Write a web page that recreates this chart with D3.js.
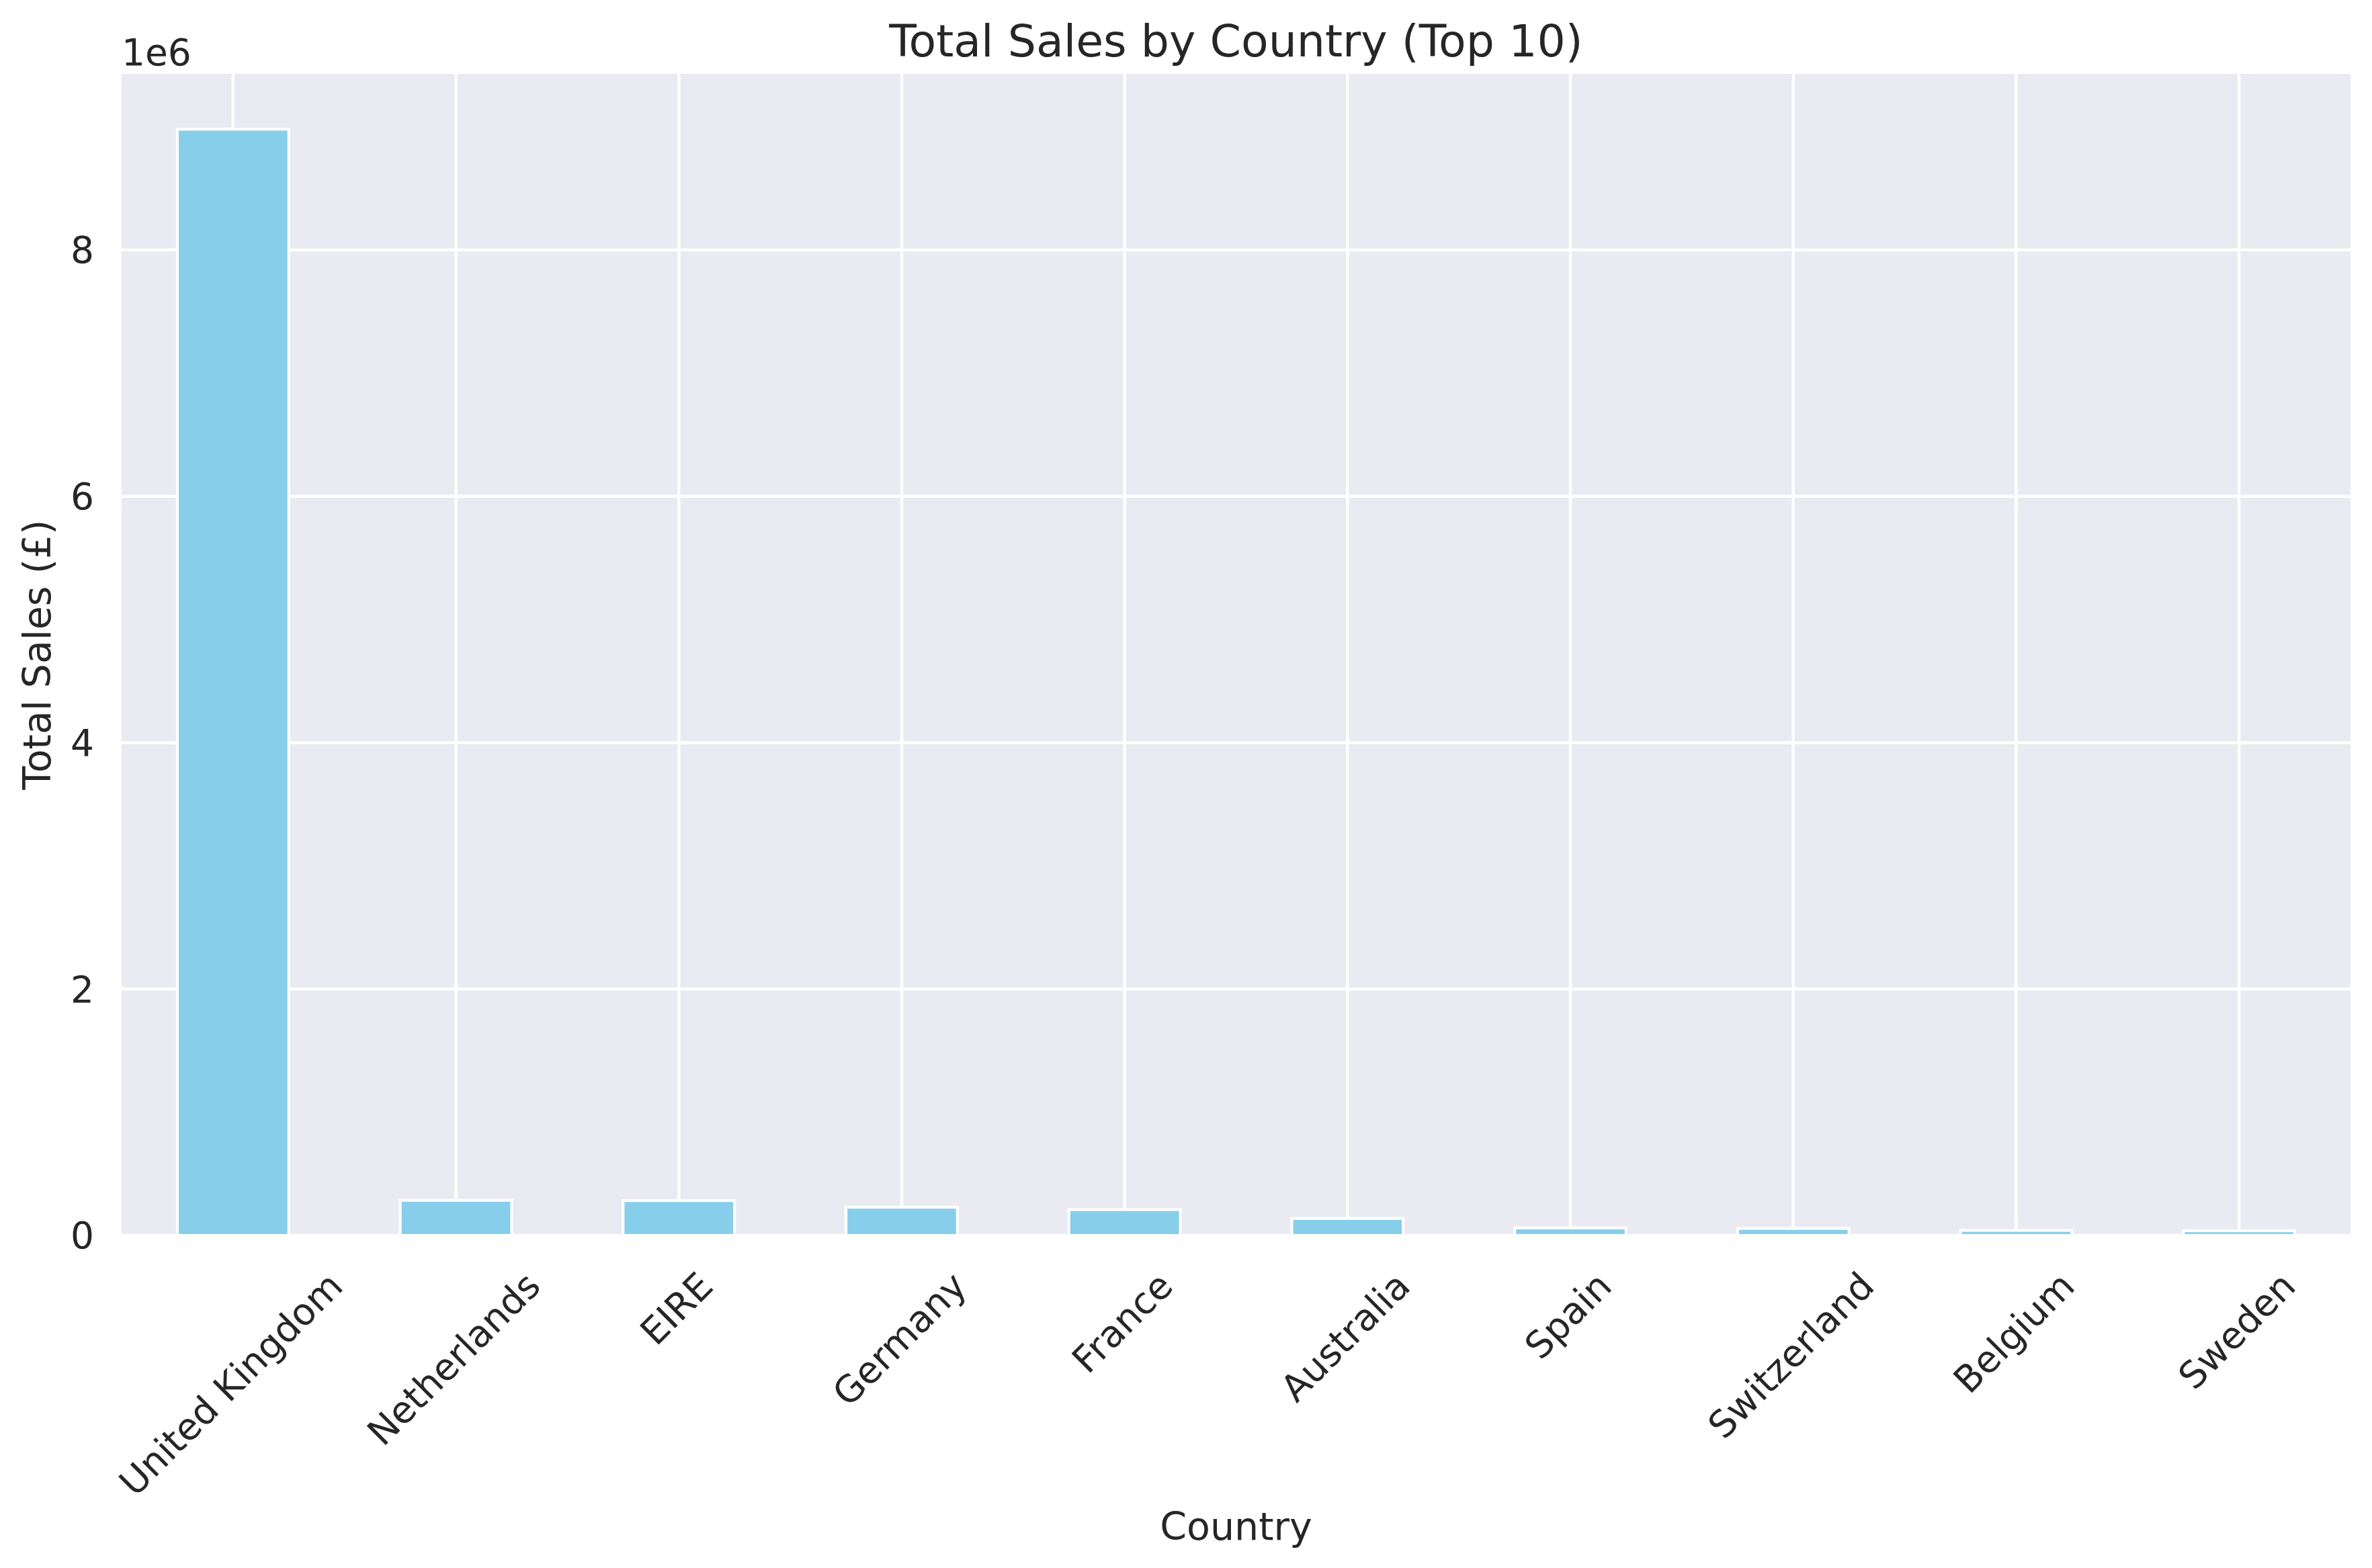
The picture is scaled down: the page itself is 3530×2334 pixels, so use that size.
<!DOCTYPE html>
<html>
<head>
<meta charset="utf-8">
<script src="https://cdn.jsdelivr.net/npm/d3@7"></script>
<style>
  body { margin: 0; background: #ffffff; }
  svg { display: block; }
  text { font-family: "DejaVu Sans", sans-serif; fill: #262626; }
</style>
</head>
<body>
<div class="graph"></div>
<script>
// values
const countries = ["United Kingdom", "Netherlands", "EIRE", "Germany", "France",
                   "Australia", "Spain", "Switzerland", "Belgium", "Sweden"]
const sales = [8980000, 285000, 283000, 229000, 210000, 138000, 61000, 57000, 41000, 38000]
const yTicks = [0, 2e6, 4e6, 6e6, 8e6]
const yTickLabels = ["0", "2", "4", "6", "8"]

const W = 3530, H = 2334
const plotLeft = 181, plotRight = 3498, plotTop = 110, plotBottom = 1839
const tickFont = 55, labelFont = 57, titleFont = 66.5

const svg = d3.select(".graph").append("svg").attr("width", W).attr("height", H)

const data = countries.map((c, i) => ({ country: c, value: sales[i] }))

const x = d3.scaleBand().domain(countries).range([plotLeft, plotRight]).paddingInner(0.5).paddingOuter(0.25)
const y = d3.scaleLinear().domain([0, d3.max(sales) * 1.05]).range([plotBottom, plotTop])

// plot background
svg.append("rect")
   .attr("x", plotLeft).attr("y", plotTop)
   .attr("width", plotRight - plotLeft).attr("height", plotBottom - plotTop)
   .attr("fill", "#eaeaf2")

// grid
const grid = svg.append("g").attr("stroke", "#ffffff").attr("stroke-width", 4.5)
grid.selectAll("line.h").data(yTicks).join("line")
    .attr("class", "h")
    .attr("x1", plotLeft).attr("x2", plotRight)
    .attr("y1", d => y(d)).attr("y2", d => y(d))
grid.selectAll("line.v").data(countries).join("line")
    .attr("class", "v")
    .attr("x1", d => x(d) + x.bandwidth() / 2).attr("x2", d => x(d) + x.bandwidth() / 2)
    .attr("y1", plotTop).attr("y2", plotBottom)

// bars
svg.append("g").selectAll("rect").data(data).join("rect")
   .attr("x", d => x(d.country))
   .attr("y", d => y(d.value))
   .attr("width", x.bandwidth())
   .attr("height", d => y(0) - y(d.value))
   .attr("fill", "#87ceeb")
   .attr("stroke", "#ffffff")
   .attr("stroke-width", 4.2)

// y tick labels
svg.append("g").selectAll("text").data(yTicks).join("text")
   .attr("x", 140)
   .attr("y", d => y(d))
   .attr("dy", "0.35em")
   .attr("text-anchor", "end")
   .attr("font-size", tickFont)
   .text((d, i) => yTickLabels[i])

// offset text
svg.append("text")
   .attr("x", plotLeft).attr("y", 97)
   .attr("font-size", tickFont)
   .text("1e6")

// x tick labels, rotated 45 like matplotlib (bbox centred on the tick)
const A = 0.76 * tickFont, D = 0.24 * tickFont, k = Math.SQRT1_2
svg.append("g").selectAll("text").data(countries).join("text")
   .attr("text-anchor", "end")
   .attr("font-size", tickFont)
   .text(d => d)
   .each(function(d) {
       const L = this.getComputedTextLength()
       const ex = x(d) + x.bandwidth() / 2 + k * (L + A - D) / 2
       const ey = plotBottom + 49 + k * A
       d3.select(this).attr("transform", "translate(" + ex + "," + ey + ") rotate(-45)")
   })

// axis labels and title
svg.append("text")
   .attr("x", (plotLeft + plotRight) / 2).attr("y", 2292)
   .attr("text-anchor", "middle")
   .attr("font-size", labelFont)
   .text("Country")

svg.append("text")
   .attr("transform", "translate(75," + (plotTop + plotBottom) / 2 + ") rotate(-90)")
   .attr("text-anchor", "middle")
   .attr("font-size", labelFont)
   .text("Total Sales (£)")

svg.append("text")
   .attr("x", (plotLeft + plotRight) / 2).attr("y", 84)
   .attr("text-anchor", "middle")
   .attr("font-size", titleFont)
   .text("Total Sales by Country (Top 10)")
</script>
</body>
</html>
